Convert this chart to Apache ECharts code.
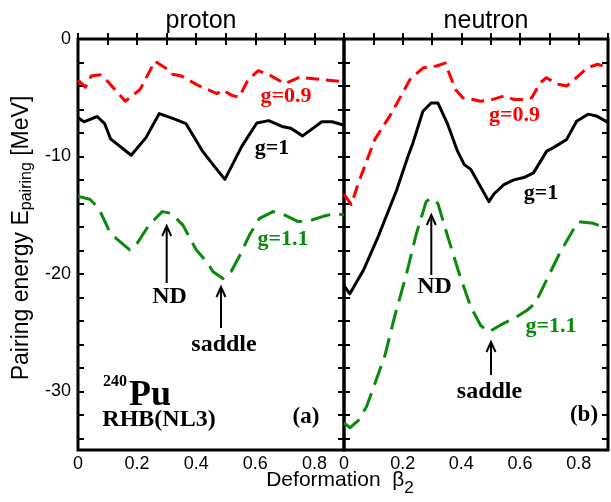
<!DOCTYPE html>
<html><head><meta charset="utf-8">
<script src="https://cdn.jsdelivr.net/npm/echarts@6/dist/echarts.min.js"></script>
<style>html,body{margin:0;padding:0;background:#fff}#c{width:611px;height:502px}</style>
</head><body><div id="c"></div>
<script>
// ---- tick labels ----
const xTickLabels = ['0', '0.2', '0.4', '0.6', '0.8'];
const yTickLabels = ['-30', '-20', '-10', '0'];
const panelTitles = ['proton', 'neutron'];

// ---- proton, g = 0.9 ----
const protonG09X = [0, 0.025, 0.045, 0.075, 0.1, 0.16, 0.21, 0.26, 0.305, 0.32, 0.35, 0.41, 0.47, 0.49, 0.52, 0.545, 0.575, 0.61, 0.65, 0.70, 0.75, 0.82, 0.9];
const protonG09Y = [-3.5, -4.1, -3.15, -3.05, -3.6, -5.3, -4.3, -1.9, -2.6, -3.0, -3.15, -4.0, -4.65, -4.35, -4.8, -4.95, -3.5, -2.7, -3.1, -3.8, -3.25, -3.45, -3.65];
// ---- proton, g = 1 ----
const protonG1X = [0, 0.02, 0.065, 0.09, 0.11, 0.18, 0.23, 0.275, 0.325, 0.365, 0.42, 0.46, 0.497, 0.555, 0.605, 0.645, 0.69, 0.72, 0.76, 0.825, 0.86, 0.9];
const protonG1Y = [-6.7, -7.05, -6.6, -7.2, -8.5, -9.9, -8.4, -6.35, -6.8, -7.2, -9.5, -10.8, -11.95, -9.1, -7.15, -6.95, -7.45, -7.6, -8.25, -7.05, -7.05, -7.35];
// ---- proton, g = 1.1 ----
const protonG11X = [0, 0.04, 0.07, 0.105, 0.13, 0.175, 0.2, 0.24, 0.285, 0.315, 0.355, 0.4, 0.44, 0.456, 0.49, 0.518, 0.546, 0.58, 0.613, 0.66, 0.7, 0.745, 0.78, 0.83, 0.87, 0.9];
const protonG11Y = [-13.4, -13.65, -14.4, -16.3, -17.0, -17.95, -17.4, -15.85, -14.7, -14.85, -15.85, -17.95, -19.1, -19.8, -20.4, -19.8, -18.5, -16.7, -15.3, -14.7, -15.0, -15.55, -15.5, -15.1, -14.85, -15.0];

// ---- neutron, g = 0.9 ----
const neutronG09X = [0, 0.025, 0.05, 0.105, 0.16, 0.225, 0.27, 0.315, 0.345, 0.38, 0.405, 0.44, 0.465, 0.5, 0.545, 0.58, 0.61, 0.64, 0.67, 0.69, 0.73, 0.76, 0.83, 0.865, 0.9];
const neutronG09Y = [-13.2, -14.1, -12.2, -8.55, -6.4, -3.45, -2.45, -2.3, -2.05, -4.3, -5.0, -5.15, -5.3, -5.2, -4.85, -5.15, -5.15, -5.0, -3.7, -3.3, -3.85, -4.0, -2.45, -2.15, -2.45];
// ---- neutron, g = 1 ----
const neutronG1X = [0, 0.02, 0.066, 0.117, 0.179, 0.218, 0.235, 0.269, 0.297, 0.32, 0.354, 0.387, 0.41, 0.432, 0.494, 0.511, 0.545, 0.579, 0.613, 0.646, 0.691, 0.714, 0.759, 0.793, 0.832, 0.86, 0.9];
const neutronG1Y = [-21.0, -21.7, -19.7, -16.8, -12.9, -10.0, -8.85, -6.15, -5.45, -5.45, -7.3, -9.55, -10.7, -11.1, -13.85, -13.2, -12.4, -12.0, -11.8, -11.4, -9.55, -9.25, -8.55, -7.0, -6.4, -6.55, -7.1];
// ---- neutron, g = 1.1 ----
const neutronG11X = [0, 0.021, 0.05, 0.077, 0.106, 0.14, 0.173, 0.213, 0.247, 0.28, 0.297, 0.32, 0.354, 0.393, 0.432, 0.466, 0.494, 0.534, 0.579, 0.624, 0.652, 0.691, 0.736, 0.78, 0.8, 0.85, 0.9];
const neutronG11Y = [-32.7, -33.1, -32.45, -31.3, -29.3, -26.9, -23.6, -20.0, -16.55, -13.85, -13.55, -14.0, -16.85, -20.0, -22.8, -24.4, -24.95, -24.35, -23.8, -23.1, -22.5, -20.5, -18.2, -16.3, -15.55, -15.7, -16.15];

const RED = '#ff0000', BLACK = '#000000', GREEN = '#0a8a0a';
const zip = (xs, ys) => xs.map((x, i) => [x, ys[i]]);

const SANS = '"Liberation Sans", Arial, sans-serif';
const SERIF = '"Liberation Serif", "Times New Roman", serif';

const grids = [
  { left: 78, top: 39, width: 266, height: 411 },
  { left: 344, top: 39, width: 265, height: 411 }
].map(g => Object.assign(g, { show: true, borderColor: '#000', borderWidth: 3, backgroundColor: 'transparent', containLabel: false }));

const tickStyle = { inside: true, length: 6, lineStyle: { color: '#000', width: 2 } };

const xAxes = [];
const yAxes = [];
[0, 1].forEach(gi => {
  xAxes.push({
    gridIndex: gi, type: 'value', min: 0, max: 0.9, interval: 0.1, position: 'bottom',
    axisLine: { show: false }, splitLine: { show: false }, axisTick: tickStyle,
    axisLabel: {
      margin: 5, fontSize: 18, fontFamily: SANS, color: '#000',
      formatter: v => { const s = String(Math.round(v * 10) / 10); return xTickLabels.includes(s) ? s : ''; }
    }
  });
  xAxes.push({
    gridIndex: gi, type: 'value', min: 0, max: 0.9, interval: 0.1, position: 'top',
    axisLine: { show: false }, splitLine: { show: false }, axisTick: tickStyle, axisLabel: { show: false }
  });
  // data axis (carries labels)
  yAxes.push({
    gridIndex: gi, type: 'value', min: -35, max: 0, interval: 5, position: 'left',
    axisLine: { show: false }, splitLine: { show: false }, axisTick: { show: false },
    axisLabel: {
      show: gi === 0, margin: 7, fontSize: 18, fontFamily: SANS, color: '#000',
      formatter: v => { const s = String(Math.round(v)); return yTickLabels.includes(s) ? s : ''; }
    }
  });
  // tick-only axes (every 2 units, counted from the top edge at 0)
  ['left', 'right'].forEach(pos => yAxes.push({
    gridIndex: gi, type: 'value', min: 0, max: 35, interval: 2, inverse: true, position: pos,
    axisLine: { show: false }, splitLine: { show: false }, axisTick: tickStyle, axisLabel: { show: false }
  }));
});

function line(gi, xs, ys, color, dash) {
  return {
    type: 'line', xAxisIndex: gi * 2, yAxisIndex: gi * 3, data: zip(xs, ys),
    symbol: 'none', smooth: false, clip: true, animation: false, z: 3,
    lineStyle: { color, width: 3, type: dash || 'solid', cap: 'butt', join: 'round' }
  };
}
const series = [
  line(0, protonG11X, protonG11Y, GREEN, [20, 9]),
  line(0, protonG1X, protonG1Y, BLACK),
  line(0, protonG09X, protonG09Y, RED, [13, 7]),
  line(1, neutronG11X, neutronG11Y, GREEN, [20, 9]),
  line(1, neutronG1X, neutronG1Y, BLACK),
  line(1, neutronG09X, neutronG09Y, RED, [13, 7])
];

function txt(text, x, y, color, size, opts) {
  return Object.assign({
    type: 'text', x, y, z: 100,
    style: { text, fill: color, font: `bold ${size}px ${SERIF}`, align: 'center', verticalAlign: 'middle' }
  }, opts || {});
}
function arrow(x, yTip, yTail) {
  return [
    { type: 'polyline', z: 100, shape: { points: [[x, yTail], [x, yTip + 1]] }, style: { stroke: '#000', lineWidth: 2, fill: 'none' } },
    { type: 'polyline', z: 100, shape: { points: [[x - 4.5, yTip + 10], [x, yTip], [x + 4.5, yTip + 10]] }, style: { stroke: '#000', lineWidth: 2, fill: 'none' } }
  ];
}

const graphic = [
  // panel titles
  { type: 'text', x: 201, y: 21, style: { text: panelTitles[0], fill: '#000', font: `25px ${SANS}`, align: 'center', verticalAlign: 'middle' } },
  { type: 'text', x: 486, y: 21, style: { text: panelTitles[1], fill: '#000', font: `25px ${SANS}`, align: 'center', verticalAlign: 'middle' } },
  // x-axis title
  { type: 'text', x: 340, y: 480, style: {
      text: '{m|Deformation  β}{s|2}', align: 'center', verticalAlign: 'middle',
      rich: { m: { fontSize: 21, fontFamily: SANS, fill: '#000' }, s: { fontSize: 17, fontFamily: SANS, fill: '#000', padding: [17, 0, 0, 0] } }
  } },
  // y-axis title
  { type: 'text', x: 22, y: 238, rotation: Math.PI / 2, style: {
      text: '{m|Pairing energy E}{s|pairing}{m| [MeV]}', align: 'center', verticalAlign: 'middle',
      rich: { m: { fontSize: 23, fontFamily: SANS, fill: '#000' }, s: { fontSize: 16, fontFamily: SANS, fill: '#000', padding: [9, 0, 0, 0] } }
  } },
  // left panel annotations
  txt('g=0.9', 286, 96, RED, 22),
  txt('g=1', 272, 148, BLACK, 22),
  txt('g=1.1', 283, 239, GREEN, 22),
  txt('ND', 169.5, 297, BLACK, 24),
  txt('saddle', 224, 345, BLACK, 24),
  txt('240', 103, 381.5, BLACK, 16, { style: { text: '240', fill: '#000', font: `bold 16px ${SERIF}`, align: 'left', verticalAlign: 'middle' } }),
  txt('Pu', 129, 396, BLACK, 36, { style: { text: 'Pu', fill: '#000', font: `bold 36px ${SERIF}`, align: 'left', verticalAlign: 'middle' } }),
  txt('RHB(NL3)', 159, 420, BLACK, 24),
  txt('(a)', 306, 417, BLACK, 23),
  // right panel annotations
  txt('g=0.9', 514.5, 115, RED, 22),
  txt('g=1', 541, 193.5, BLACK, 22),
  txt('g=1.1', 551, 326, GREEN, 22),
  txt('ND', 434.5, 287, BLACK, 24),
  txt('saddle', 489.5, 392, BLACK, 24),
  txt('(b)', 584, 415.5, BLACK, 23),
  ...arrow(166.7, 226, 283),
  ...arrow(221, 287, 328),
  ...arrow(431.3, 215, 275),
  ...arrow(491, 342, 375)
];

const chart = echarts.init(document.getElementById('c'), null, { renderer: 'canvas' });
chart.setOption({
  animation: false,
  backgroundColor: '#fff',
  grid: grids,
  xAxis: xAxes,
  yAxis: yAxes,
  series,
  graphic
});
</script>
</body></html>
